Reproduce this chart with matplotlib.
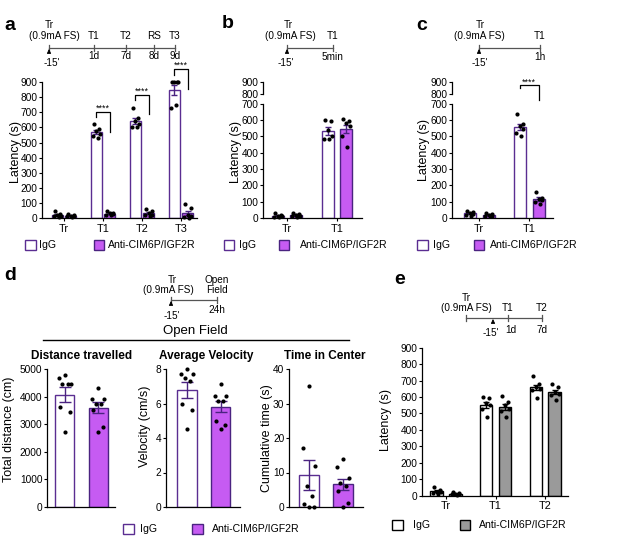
import matplotlib
matplotlib.use('Agg')
import matplotlib.pyplot as plt
import numpy as np
from matplotlib.patches import Rectangle

W, H = 617, 538
DPI = 100
plt.rcParams['font.family'] = ['Liberation Sans', 'DejaVu Sans']

# ---------------- data ----------------
groups_a = ['Tr', 'T1', 'T2', 'T3']
a_igg = [[45, 30, 22, 15, 12, 8], [625, 590, 575, 560, 545, 530],
         [730, 660, 640, 620, 600, 600], [900, 900, 900, 900, 730, 750]]
a_anti = [[30, 22, 18, 15, 12, 8], [45, 38, 32, 28, 25, 20],
          [60, 50, 35, 25, 20, 15], [95, 65, 20, 15, 10, 5]]

groups_bc = ['Tr', 'T1']
b_igg = [[30, 20, 15, 12, 8, 5], [600, 590, 540, 500, 480, 480]]
b_anti = [[32, 25, 20, 15, 12, 8], [605, 590, 580, 560, 500, 435]]
c_igg = [[45, 35, 30, 25, 20, 15], [635, 575, 560, 545, 520, 500]]
c_anti = [[30, 25, 20, 15, 15, 10], [160, 125, 115, 110, 100, 85]]

d_dist_igg = [4780, 4660, 4460, 4450, 4440, 3630, 3450, 2720]
d_dist_anti = [4300, 3930, 3930, 3750, 3750, 3500, 2900, 2720]
d_vel_igg = [7.98, 7.7, 7.7, 7.5, 7.3, 6.0, 5.64, 4.5]
d_vel_anti = [7.12, 6.44, 6.44, 6.13, 6.13, 5.0, 4.75, 4.5]
d_time_igg = [35, 17, 12, 6, 3.3, 1, 0, 0]
d_time_anti = [13.8, 11.5, 8.3, 7, 6, 4.5, 1.2, 0]

groups_e = ['Tr', 'T1', 'T2']
e_igg = [[50, 35, 25, 20, 15, 10], [600, 595, 565, 550, 530, 480],
         [725, 680, 660, 650, 640, 595]]
e_anti = [[25, 15, 10, 10, 8, 5], [605, 570, 550, 530, 515, 480],
          [680, 660, 630, 620, 610, 585]]

legend_labels = ['IgG', 'Anti-CIM6P/IGF2R']

# ---------------- style ----------------
PURPLE = '#C65BF2'
PEDGE = '#4A2380'
IEDGE = '#5A2D91'
GRAY = '#9A9A9A'
TICK_FS = 7.3
LAB_FS = 9
TL_FS = 7.2
LEG_FS = 7.6
JIT6 = [-0.22, 0.25, 0.0, 0.32, -0.3, 0.1]
JIT8 = [0.0, -0.3, 0.3, -0.12, 0.15, -0.25, 0.25, 0.0]

fig = plt.figure(figsize=(W / DPI, H / DPI), dpi=DPI)


def add_ax(x0, x1, ytop, ybot):
    return fig.add_axes([x0 / W, 1 - ybot / H, (x1 - x0) / W, (ybot - ytop) / H])


def style_ax(ax, xaxis=True):
    for s in ['top', 'right']:
        ax.spines[s].set_visible(False)
    ax.spines['left'].set_linewidth(0.9)
    ax.spines['bottom'].set_linewidth(0.9)
    ax.tick_params(axis='y', length=2.5, width=0.8, pad=0.8, labelsize=TICK_FS)
    ax.tick_params(axis='x', length=2.5, width=0.8, pad=1.5, labelsize=TICK_FS + 0.5)
    ax.patch.set_alpha(0)
    if not xaxis:
        ax.spines['bottom'].set_visible(False)
        ax.set_xticks([])


def draw_group(ax, center, vals, fc, ec, errc, width, capsize, jit, ms=9):
    v = np.array(vals, dtype=float)
    m = v.mean()
    se = v.std(ddof=1) / np.sqrt(len(v))
    ax.bar(center, m, width, color=fc, edgecolor=ec, linewidth=1.0, zorder=2)
    ax.errorbar(center, m, yerr=se, color=errc, capsize=capsize, elinewidth=1.0,
                capthick=1.0, zorder=3, fmt='none')
    xs = center + np.array(jit[:len(v)]) * width
    ax.scatter(xs, v, s=ms, color='black', zorder=4, clip_on=False, linewidths=0)


def grouped(ax, igg, anti, off, width, capsize, gray=False):
    for i in range(len(igg)):
        if gray:
            draw_group(ax, i - off, igg[i], 'white', 'black', 'black', width, capsize, JIT6)
            draw_group(ax, i + off, anti[i], GRAY, 'black', 'black', width, capsize, JIT6)
        else:
            draw_group(ax, i - off, igg[i], 'white', IEDGE, PEDGE, width, capsize, JIT6)
            draw_group(ax, i + off, anti[i], PURPLE, PEDGE, PEDGE, width, capsize, JIT6)


def bracket(ax, x1, x2, ytop, yl, yr, ystar):
    ax.plot([x1, x1, x2, x2], [yl, ytop, ytop, yr], color='black', lw=0.9,
            clip_on=False, zorder=5)
    ax.text((x1 + x2) / 2, ystar, '****', ha='center', va='baseline',
            fontsize=6.5, clip_on=False)


# ---------------- panel a ----------------
axa = add_ax(42, 197, 66.9, 218.3)
grouped(axa, a_igg, a_anti, 0.17, 0.3, 2.5)
axa.set_xlim(-0.564, 3.41)
axa.set_ylim(0, 1000)
axa.set_yticks(np.arange(0, 901, 100))
axa.spines['left'].set_bounds(0, 900)
axa.set_xticks(range(len(groups_a)))
axa.set_xticklabels(groups_a)
style_ax(axa)
bracket(axa, 1 - 0.17, 1 + 0.17, 700, 667, 570, 712)
bracket(axa, 2 - 0.17, 2 + 0.17, 812, 780, 692, 824)
bracket(axa, 3 - 0.17, 3 + 0.17, 983, 944, 856, 993)

# ---------------- panels b, c (broken axis) ----------------
def broken(x0, x1, xl, igg, anti, off):
    top = add_ax(x0, x1, 82, 94)
    bot = add_ax(x0, x1, 103.5, 218)
    grouped(bot, igg, anti, off, 0.24, 2.5)
    for ax in (top, bot):
        ax.set_xlim(*xl)
    bot.set_ylim(0, 700)
    bot.set_yticks(np.arange(0, 701, 100))
    bot.set_xticks(range(len(groups_bc)))
    bot.set_xticklabels(groups_bc)
    style_ax(bot)
    top.set_ylim(800, 900)
    top.set_yticks([800, 900])
    style_ax(top, xaxis=False)
    return top, bot

topb, botb = broken(263, 362, (-0.48, 1.5), b_igg, b_anti, 0.18)
topc, botc = broken(452, 553, (-0.54, 1.48), c_igg, c_anti, 0.19)
bracket(topc, 1 - 0.19, 1 + 0.19, 875, 850, 750, 880)

# ---------------- panel d ----------------
d_specs = [
    (47, 115, (-0.53, 1.5), d_dist_igg, d_dist_anti, 5000, np.arange(0, 5001, 1000)),
    (166, 240, (-0.63, 1.58), d_vel_igg, d_vel_anti, 8, np.arange(0, 9, 2)),
    (289, 363, (-0.6, 1.6), d_time_igg, d_time_anti, 40, np.arange(0, 41, 10)),
]
for x0, x1, xl, gi, ga, ymax, yt in d_specs:
    ax = add_ax(x0, x1, 369, 507)
    draw_group(ax, 0, gi, 'white', IEDGE, PEDGE, 0.58, 4, JIT8)
    draw_group(ax, 1, ga, PURPLE, PEDGE, PEDGE, 0.58, 4, JIT8)
    ax.set_xlim(*xl)
    ax.set_ylim(0, ymax)
    ax.set_yticks(yt)
    style_ax(ax)
    ax.set_xticks([])

# ---------------- panel e ----------------
axe = add_ax(422, 568, 347.7, 495.7)
grouped(axe, e_igg, e_anti, 0.19, 0.25, 2.5, gray=True)
axe.set_xlim(-0.485, 2.46)
axe.set_ylim(0, 900)
axe.set_yticks(np.arange(0, 901, 100))
axe.set_xticks(range(len(groups_e)))
axe.set_xticklabels(groups_e)
style_ax(axe)
for s in ['left', 'bottom']:
    axe.spines[s].set_color('black')

# ---------------- overlay (text, timelines, legends) ----------------
ov = fig.add_axes([0, 0, 1, 1])
ov.set_xlim(0, W)
ov.set_ylim(H, 0)
ov.axis('off')
ov.patch.set_alpha(0)

# panel letters
for lt, x, y in [('a', 4, 25), ('b', 222, 23), ('c', 416, 25), ('d', 4, 276), ('e', 394, 279)]:
    ov.text(x, y, lt, fontsize=14, fontweight='bold', ha='left', va='center')

# y labels
for txt, x, y in [('Latency (s)', 16, 152), ('Latency (s)', 236, 152), ('Latency (s)', 424, 150),
                  ('Total distance (cm)', 9, 429), ('Velocity (cm/s)', 145, 426),
                  ('Cumulative time (s)', 267, 438), ('Latency (s)', 386, 420)]:
    ov.text(x, y, txt, fontsize=LAB_FS, rotation=90, ha='center', va='center')


def tl_line(x0, x1, y, ticks):
    ov.plot([x0, x1], [y, y], color='#555555', lw=0.9)
    for t in ticks:
        ov.plot([t, t], [y - 3.5, y + 2.5], color='#555555', lw=0.9)


def tl_arrow(x, y):
    ov.annotate('', xy=(x, y + 1), xytext=(x, y + 6),
                arrowprops=dict(arrowstyle='-|>,head_length=0.25,head_width=0.12',
                                color='black', lw=0.6))


def tl_text(x, y, s):
    ov.text(x, y, s, fontsize=TL_FS, ha='center', va='center')


# timeline a
tl_line(49, 175, 48, [49, 94, 126, 154, 175])
tl_arrow(49, 48)
tl_text(49, 25, 'Tr')
tl_text(54, 36, '(0.9mA FS)')
for lab, x, below in [('T1', 94, '1d'), ('T2', 126, '7d'), ('RS', 154, '8d'), ('T3', 175, '9d')]:
    tl_text(x, 36, lab)
    tl_text(x, 56, below)
tl_text(52, 63, "-15'")

# timeline b
tl_line(287, 333, 48, [287, 333])
tl_arrow(287, 48)
tl_text(288, 25, 'Tr')
tl_text(290, 36, '(0.9mA FS)')
tl_text(333, 36, 'T1')
tl_text(333, 57, '5min')
tl_text(286, 63, "-15'")

# timeline c
tl_line(479, 540, 48, [479, 540])
tl_arrow(479, 48)
tl_text(480, 25, 'Tr')
tl_text(479, 36, '(0.9mA FS)')
tl_text(540, 36, 'T1')
tl_text(540, 57, '1h')
tl_text(480, 63, "-15'")

# timeline d
tl_line(171, 217, 300, [171, 217])
tl_arrow(171, 300)
tl_text(172, 280, 'Tr')
tl_text(168, 290, '(0.9mA FS)')
tl_text(217, 280, 'Open')
tl_text(217, 290, 'Field')
tl_text(217, 310, '24h')
tl_text(172, 316, "-15'")

# timeline e
tl_line(466, 542, 318, [466, 508, 542])
tl_arrow(493, 318)
tl_text(466, 298, 'Tr')
tl_text(466, 308, '(0.9mA FS)')
tl_text(508, 308, 'T1')
tl_text(542, 308, 'T2')
tl_text(491, 333, "-15'")
tl_text(511, 330, '1d')
tl_text(542, 330, '7d')

# Open Field header
ov.text(195, 331, 'Open Field', fontsize=9.5, ha='center', va='center')
ov.plot([43, 349], [339.5, 339.5], color='black', lw=1.0)
for txt, x in [('Distance travelled', 82), ('Average Velocity', 206), ('Time in Center', 325)]:
    ov.text(x, 356, txt, fontsize=8.5, fontweight='bold', ha='center', va='center')


# legends
def legend(y, bx1, tx1, bx2, tx2, igg_ec, anti_fc, anti_ec):
    ov.add_patch(Rectangle((bx1, y - 5), 10.5, 10, facecolor='white', edgecolor=igg_ec, lw=1.0))
    ov.text(tx1, y, legend_labels[0], fontsize=LEG_FS, ha='left', va='center')
    ov.add_patch(Rectangle((bx2, y - 5), 10.5, 10, facecolor=anti_fc, edgecolor=anti_ec, lw=1.0))
    ov.text(tx2, y, legend_labels[1], fontsize=LEG_FS, ha='left', va='center')


legend(245, 25, 38.5, 93.5, 107.5, IEDGE, PURPLE, PEDGE)
legend(245, 223.5, 238.5, 278.5, 299.5, IEDGE, PURPLE, PEDGE)
legend(245, 417, 433.5, 473.5, 490, IEDGE, PURPLE, PEDGE)
legend(529, 123, 140, 192, 212, IEDGE, PURPLE, PEDGE)
legend(525, 392, 413, 459.5, 478.5, 'black', GRAY, 'black')

fig.savefig('out.png', dpi=DPI)
